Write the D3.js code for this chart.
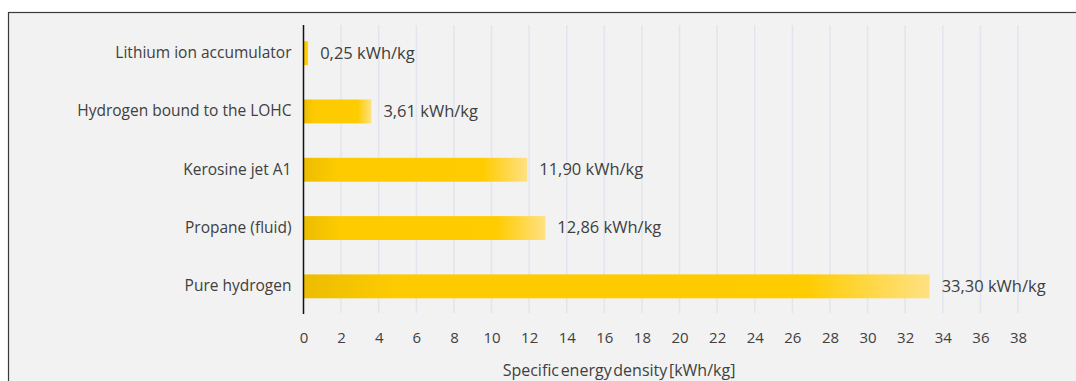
<!DOCTYPE html>
<html><head><meta charset="utf-8">
<script src="https://cdn.jsdelivr.net/npm/d3@7"></script>
<style>html,body{margin:0;padding:0;background:#fff;}svg{display:block;}</style>
</head><body>
<svg id="chart" width="1076" height="381"></svg>
<script>
const categories = ["Lithium ion accumulator","Hydrogen bound to the LOHC","Kerosine jet A1","Propane (fluid)","Pure hydrogen"];
const values = [0.25, 3.61, 11.90, 12.86, 33.30];
const valueLabels = ["0,25 kWh/kg","3,61 kWh/kg","11,90 kWh/kg","12,86 kWh/kg","33,30 kWh/kg"];
const tickValues = [0,2,4,6,8,10,12,14,16,18,20,22,24,26,28,30,32,34,36,38];
const axisTitle = "Specific energy density [kWh/kg]";

const svg = d3.select("#chart");
const font = "'Open Sans', sans-serif";

svg.append("rect").attr("x",8.5).attr("y",12.5).attr("width",1100).attr("height",400)
  .attr("fill","#f2f2f2").attr("stroke","#3a3a3a").attr("stroke-width",1.2);

const defs = svg.append("defs");
const grad = defs.append("linearGradient").attr("id","barGrad").attr("x1","0").attr("x2","1").attr("y1","0").attr("y2","0");
[[0,"#ecbd00"],[0.15,"#fecb00"],[0.8,"#ffcc00"],[1,"#ffe183"]].forEach(([o,c])=>grad.append("stop").attr("offset",o).attr("stop-color",c));

const x = d3.scaleLinear().domain([0,38]).range([303.5,1018]);
const y = d3.scaleBand().domain(categories).range([24,315.5]).paddingInner(0.59).paddingOuter(0.295);

svg.append("g").selectAll("line").data(tickValues.filter(d=>d>0)).join("line")
  .attr("x1",d=>x(d)).attr("x2",d=>x(d)).attr("y1",25).attr("y2",313)
  .attr("stroke","#e2e5ee").attr("stroke-width",1.5);

svg.append("g").selectAll("rect").data(values).join("rect")
  .attr("x",x(0)).attr("y",(d,i)=>y(categories[i]))
  .attr("width",d=>x(d)-x(0)).attr("height",y.bandwidth())
  .attr("fill","url(#barGrad)");

svg.append("line").attr("x1",x(0)).attr("x2",x(0)).attr("y1",25).attr("y2",314)
  .attr("stroke","#111").attr("stroke-width",1.5);

const xAxis = d3.axisBottom(x).tickValues(tickValues).tickSize(0).tickPadding(0).tickFormat(d3.format("d"));
const gx = svg.append("g").attr("transform","translate(0,335)").call(xAxis);
gx.select(".domain").remove();
gx.selectAll("text").attr("font-family",font).attr("font-size",15).attr("fill","#404040").attr("dy","0.5em");

const yAxis = d3.axisLeft(y).tickSize(0).tickPadding(12);
const gy = svg.append("g").attr("transform",`translate(${x(0)},0)`).call(yAxis);
gy.select(".domain").remove();
gy.selectAll("text").attr("font-family",font).attr("font-size",15.5).attr("fill","#404040");

svg.append("g").selectAll("text").data(values).join("text")
  .attr("x",d=>x(d)+12).attr("y",(d,i)=>y(categories[i])+y.bandwidth()/2)
  .attr("dy","0.33em").attr("font-family",font).attr("font-size",16.5).attr("fill","#404040")
  .text((d,i)=>valueLabels[i]);

svg.append("text").attr("x",619).attr("y",376).attr("text-anchor","middle")
  .attr("font-family",font).attr("font-size",16).attr("fill","#404040").attr("word-spacing","-2.5px")
  .text(axisTitle);
</script>
</body></html>
